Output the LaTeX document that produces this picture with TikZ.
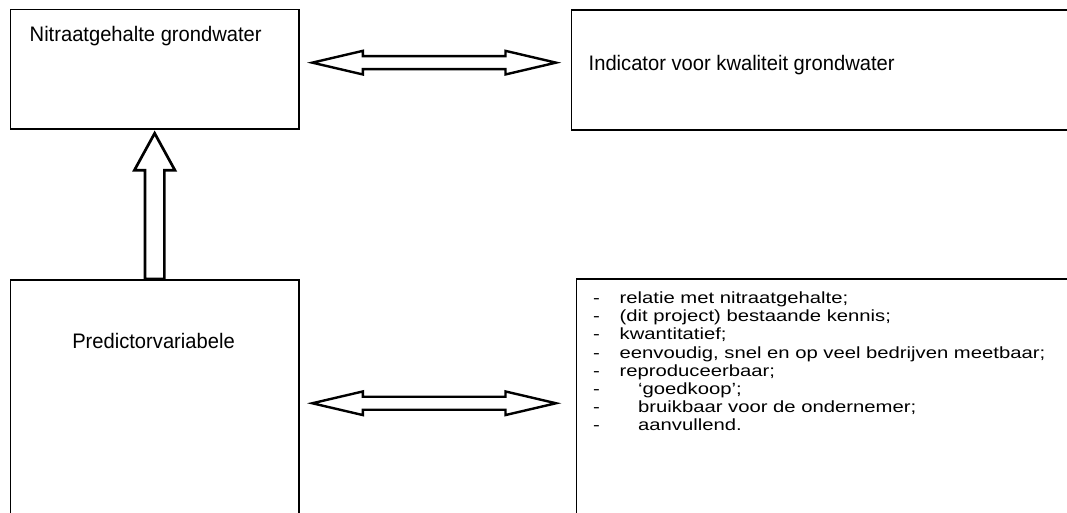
\documentclass[tikz,border=0pt]{standalone}
\usepackage{fontspec}
\usetikzlibrary{calc}
\setmainfont{Liberation Sans}
\newfontfamily\titlefont[FakeStretch=0.96]{Liberation Sans}
\newfontfamily\listfont[FakeStretch=1.25]{Liberation Sans}
\begin{document}
\begin{tikzpicture}[x=1pt,y=-1pt,
  box/.style={draw=black,line width=1.8pt,rectangle,inner sep=0pt},
  ttl/.style={inner sep=0pt,font=\titlefont\fontsize{21}{25}\selectfont},
  blockarrow/.style={draw=black,fill=white,line width=2.4pt,line join=miter},
  lst/.style={inner sep=0pt,anchor=base west,font=\listfont\fontsize{16.2}{18.2}\selectfont}]
\useasboundingbox (0,0) rectangle (1067,512);
\clip (0,0) rectangle (1067,512);
\fill[white] (0,0) rectangle (1067,512);

% boxes
\node[box,anchor=north west,minimum width=288.5pt,minimum height=119.5pt] (A) at (9.5,8.5) {};
\node[box,anchor=north west,minimum width=540pt,minimum height=120pt] (B) at (570.5,9) {};
\node[box,anchor=north west,minimum width=288.5pt,minimum height=260pt] (C) at (9.5,279) {};
\node[box,anchor=north west,minimum width=540pt,minimum height=260pt] (D) at (575.5,278) {};

% texts
\node[ttl,anchor=base west] (tA) at (29.5,41.7) {Nitraatgehalte grondwater};
\node[ttl,anchor=base west] (tB) at (588.5,70.7) {Indicator voor kwaliteit grondwater};
\node[ttl,anchor=base] (tC) at (153.5,348) {Predictorvariabele};
\node[lst] (tD) at (593,303.5) {\vtop{\baselineskip=18.2pt
  \hbox{\makebox[26.5pt][l]{-}relatie met nitraatgehalte;}
  \hbox{\makebox[26.5pt][l]{-}(dit project) bestaande kennis;}
  \hbox{\makebox[26.5pt][l]{-}kwantitatief;}
  \hbox{\makebox[26.5pt][l]{-}eenvoudig, snel en op veel bedrijven meetbaar;}
  \hbox{\makebox[26.5pt][l]{-}reproduceerbaar;}
  \hbox{\makebox[45pt][l]{-}‘goedkoop’;}
  \hbox{\makebox[45pt][l]{-}bruikbaar voor de ondernemer;}
  \hbox{\makebox[45pt][l]{-}aanvullend.}}};

% connector end points
\coordinate (topL) at ([xshift=12.5pt,yshift=6.5pt]A.east);
\coordinate (topR) at ([xshift=-14.5pt]topL -| B.west);
\coordinate (botL) at ($(topL)+(0,340.6)$);
\coordinate (botR) at ($(topR)+(0,340.6)$);
\coordinate (upB) at (C.north);
\coordinate (upT) at ([yshift=-3.5pt]upB |- A.south);

% double block arrows
\draw[blockarrow] (topL) -- ++(50.5,-11.8) -- ++(0,5.3) -- ($(topR)+(-50.5,-6.5)$) -- ++(0,-5.3) -- (topR)
  -- ++(-50.5,11.8) -- ++(0,-5.3) -- ($(topL)+(50.5,6.5)$) -- ++(0,5.3) -- cycle;
\draw[blockarrow] (botL) -- ++(50.5,-11.8) -- ++(0,5.3) -- ($(botR)+(-50.5,-6.5)$) -- ++(0,-5.3) -- (botR)
  -- ++(-50.5,11.8) -- ++(0,-5.3) -- ($(botL)+(50.5,6.5)$) -- ++(0,5.3) -- cycle;
% up block arrow
\draw[blockarrow,line width=2.7pt] ($(upB)+(-9.7,0)$) -- ($(upT)+(-9.7,37)$) -- ++(-10.6,0) -- (upT)
  -- ($(upT)+(20.3,37)$) -- ++(-10.6,0) -- ($(upB)+(9.7,0)$) -- cycle;
\end{tikzpicture}
\end{document}
